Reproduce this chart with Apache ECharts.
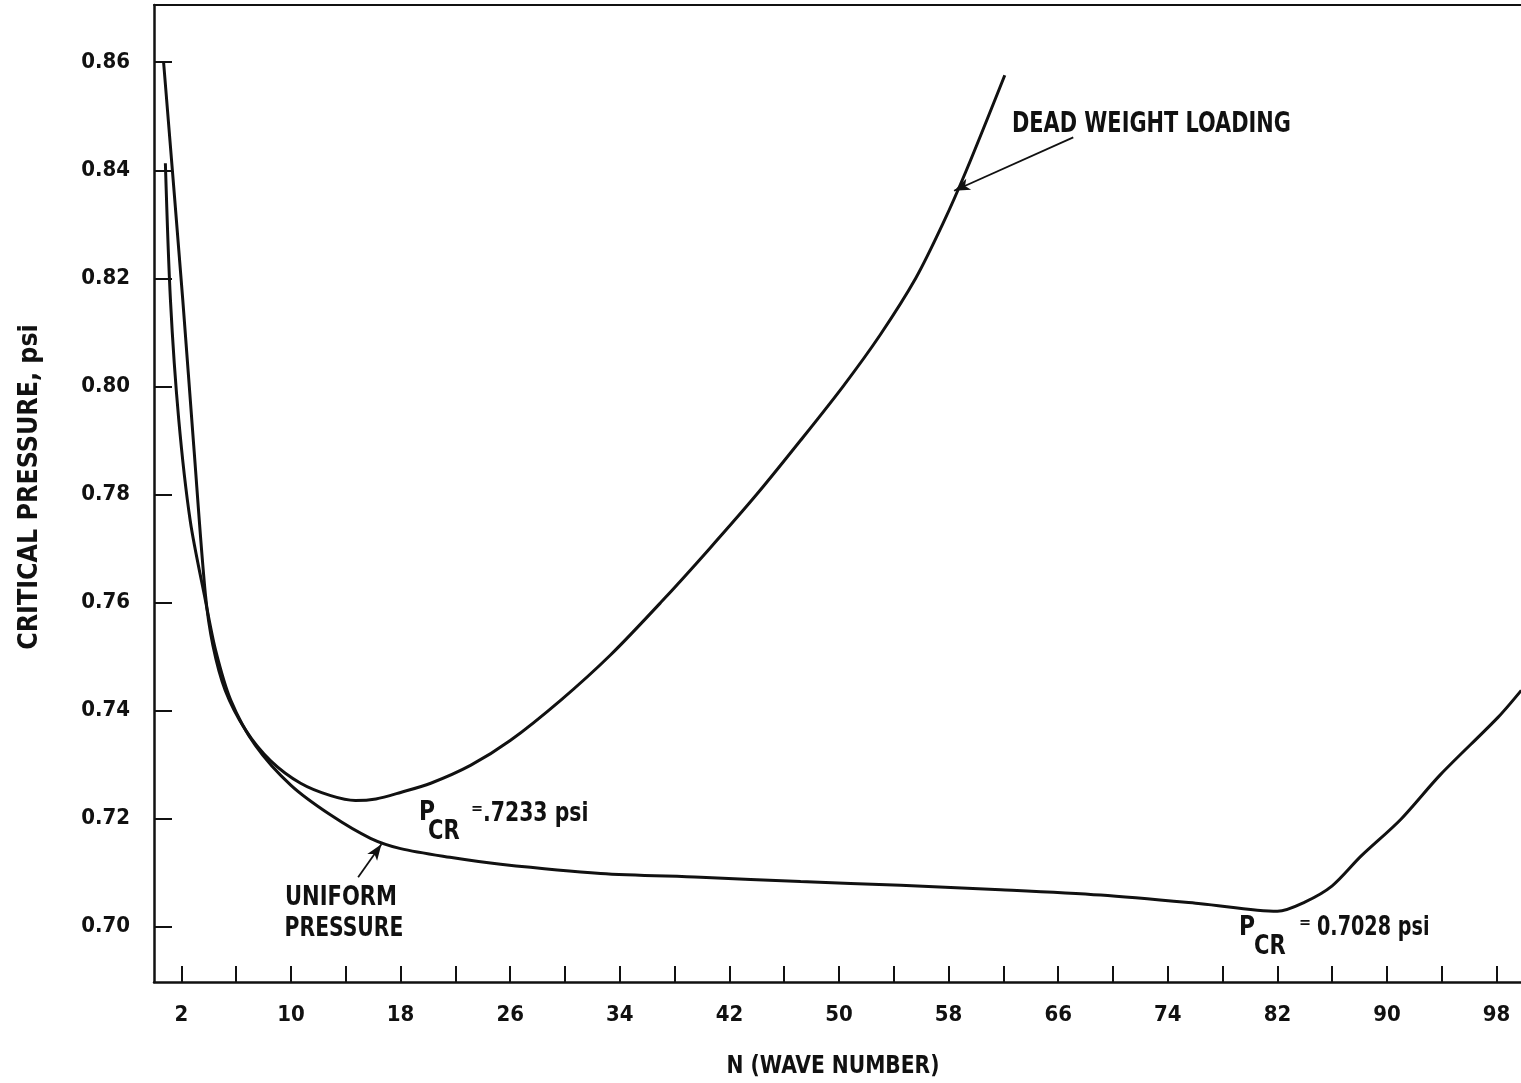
<!DOCTYPE html>
<html>
<head>
<meta charset="utf-8">
<script src="https://cdn.jsdelivr.net/npm/echarts@6/dist/echarts.min.js"></script>
<style>
  html, body { margin: 0; padding: 0; background: #fff; }
  #chart { width: 1521px; height: 1083px; }
</style>
</head>
<body>
<div id="chart"></div>
<script>
// Critical pressure vs. wave number for the two loading cases
const waveDeadWeight = [0.7, 2.1, 2.9, 3.75, 4.3, 5.2, 6.7, 8.5, 10.7, 12.9, 14.7, 16.2, 18, 20.2, 23.1, 26, 29.7, 33.3, 37, 40.5, 44, 47.2, 50.3, 53, 55.6, 57.6, 59.3, 62.1];
const pressureDeadWeight = [0.860, 0.816, 0.789, 0.7615, 0.752, 0.7437, 0.7363, 0.7307, 0.7265, 0.7242, 0.7233, 0.7236, 0.7248, 0.7265, 0.7298, 0.7344, 0.7419, 0.7502, 0.760, 0.7698, 0.780, 0.790, 0.800, 0.8095, 0.820, 0.8302, 0.840, 0.8576];

const waveUniform = [0.83, 1.2, 1.8, 2.65, 3.75, 4.5, 5.6, 7.4, 10, 12.9, 15.8, 18, 21.6, 25.3, 32.6, 39.9, 47.2, 54.5, 61.8, 69.1, 76.4, 82, 84, 86, 88.1, 91, 93.9, 98.1, 99.8];
const pressureUniform = [0.8413, 0.816, 0.794, 0.775, 0.7604, 0.7511, 0.7419, 0.7335, 0.7261, 0.7206, 0.7163, 0.7144, 0.7128, 0.7115, 0.7098, 0.7091, 0.7083, 0.7076, 0.7068, 0.7058, 0.7042, 0.7028, 0.7045, 0.7075, 0.713, 0.7198, 0.7281, 0.7387, 0.7437];

// Axis ticks and labels
const xTickValues = [2, 6, 10, 14, 18, 22, 26, 30, 34, 38, 42, 46, 50, 54, 58, 62, 66, 70, 74, 78, 82, 86, 90, 94, 98];
const xLabelValues = [2, 10, 18, 26, 34, 42, 50, 58, 66, 74, 82, 90, 98];
const yLabelValues = [0.70, 0.72, 0.74, 0.76, 0.78, 0.80, 0.82, 0.84, 0.86];

const FONT = "'Liberation Sans Narrow', 'DejaVu Sans Condensed', 'Roboto', sans-serif";
const INK = '#111';

function pairs(xs, ys) { return xs.map((x, i) => [x, ys[i]]); }

// Narrowed annotation text
function label(text, x, y, size, sx, align, extra) {
  return Object.assign({
    type: 'text', x: x, y: y, scaleX: sx, scaleY: 1,
    style: {
      text: text, fontSize: size, fontFamily: FONT, fontWeight: 'bold', fill: INK,
      align: align || 'left', verticalAlign: 'middle'
    }
  }, extra || {});
}

const chart = echarts.init(document.getElementById('chart'), null, { renderer: 'canvas' });

chart.setOption({
  backgroundColor: '#fff',
  animation: false,
  grid: {
    left: 154, top: 5, width: 1370, bottom: 101,
    outerBoundsMode: 'none', containLabel: false, show: false
  },
  xAxis: [
    {
      type: 'value', min: 0, max: 100,
      splitLine: { show: false },
      axisLine: { lineStyle: { color: INK, width: 2.5 } },
      axisTick: { inside: true, length: 16, customValues: xTickValues, lineStyle: { color: INK, width: 2 } },
      axisLabel: {
        customValues: xLabelValues, margin: 22, color: INK,
        fontSize: 22, fontFamily: FONT, fontWeight: 'bold'
      }
    },
    {
      // top frame line
      type: 'value', position: 'top', min: 0, max: 100,
      splitLine: { show: false },
      axisLine: { lineStyle: { color: INK, width: 2 } },
      axisTick: { show: false }, axisLabel: { show: false }
    }
  ],
  yAxis: {
    type: 'value', min: 0.6897, max: 0.8706,
    splitLine: { show: false },
    axisLine: { lineStyle: { color: INK, width: 2.5 } },
    axisTick: { inside: true, length: 18, customValues: yLabelValues, lineStyle: { color: INK, width: 2 } },
    axisLabel: {
      customValues: yLabelValues, margin: 24, color: INK,
      fontSize: 22, fontFamily: FONT, fontWeight: 'bold',
      formatter: v => v.toFixed(2)
    }
  },
  series: [
    {
      name: 'DEAD WEIGHT LOADING', type: 'line',
      data: pairs(waveDeadWeight, pressureDeadWeight),
      smooth: 0.3, showSymbol: false,
      lineStyle: { color: INK, width: 3 },
      markLine: {
        silent: true, symbol: ['none', 'arrow'], symbolSize: [9, 16],
        label: { show: false },
        lineStyle: { color: INK, width: 1.8, type: 'solid' },
        data: [[{ coord: [67.1, 0.8461] }, { coord: [58.4, 0.8362] }]]
      }
    },
    {
      name: 'UNIFORM PRESSURE', type: 'line',
      data: pairs(waveUniform, pressureUniform),
      smooth: 0.3, showSymbol: false,
      lineStyle: { color: INK, width: 3 },
      markLine: {
        silent: true, symbol: ['none', 'arrow'], symbolSize: [9, 16],
        label: { show: false },
        lineStyle: { color: INK, width: 1.8, type: 'solid' },
        data: [[{ coord: [14.9, 0.7091] }, { coord: [16.6, 0.7152] }]]
      }
    }
  ],
  graphic: [
    label('CRITICAL PRESSURE, psi', 30, 487, 26, 1.02, 'center', { rotation: Math.PI / 2 }),
    label('N (WAVE NUMBER)', 833, 1066, 25, 0.9, 'center'),
    label('DEAD WEIGHT LOADING', 1012, 124, 29, 0.8, 'left'),
    label('UNIFORM', 341, 898, 26, 0.9, 'center'),
    label('PRESSURE', 344, 929, 26, 0.87, 'center'),
    // P_CR = .7233 psi
    label('P', 419, 813, 27, 0.9, 'left'),
    label('CR', 428, 832, 26, 0.9, 'left'),
    label('=', 471, 809, 16, 1, 'left'),
    label('.7233 psi', 483, 814, 27, 0.84, 'left'),
    // P_CR = 0.7028 psi
    label('P', 1239, 928, 27, 0.9, 'left'),
    label('CR', 1254, 947, 26, 0.9, 'left'),
    label('=', 1299, 923, 16, 1, 'left'),
    label('0.7028 psi', 1317, 928, 27, 0.79, 'left')
  ]
});
</script>
</body>
</html>
